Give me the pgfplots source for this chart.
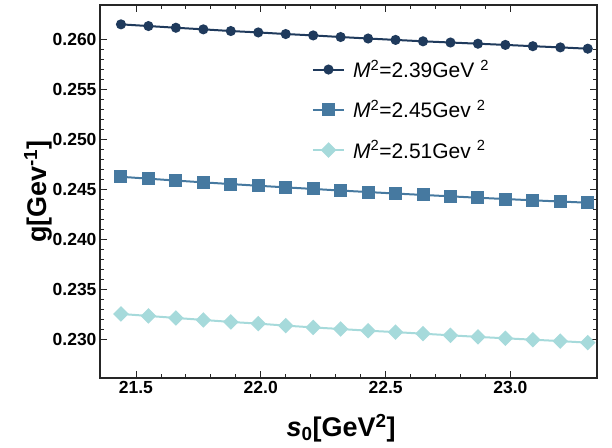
\documentclass[border=0pt]{standalone}
\usepackage{pgfplots}
\pgfplotsset{compat=1.18}
\usepackage{fontspec}
\setmainfont{Liberation Sans}

\definecolor{navy}{HTML}{1F3A5C}
\definecolor{steel}{HTML}{4679A0}
\definecolor{aqua}{HTML}{A6DADB}

\begin{document}
\begin{tikzpicture}
\begin{axis}[
    scale only axis,
    width=497bp, height=373bp,
    at={(0,0)}, anchor=south west,
    xmin=21.356, xmax=23.347,
    ymin=0.22609, ymax=0.26348,
    xtick={21.5,22.0,22.5,23.0},
    ytick={0.230,0.235,0.240,0.245,0.250,0.255,0.260},
    minor x tick num=4, minor y tick num=4,
    tick align=inside,
    major tick length=7bp, minor tick length=4bp,
    every tick/.style={black!85, line width=0.8bp},
    axis line style={black!85, line width=1.2bp},
    /pgf/number format/assume math mode=true,
    ticklabel style={font=\fontsize{17.5bp}{20bp}\selectfont\bfseries},
    xticklabel style={/pgf/number format/.cd, fixed, fixed zerofill, precision=1},
    yticklabel style={/pgf/number format/.cd, fixed, fixed zerofill, precision=3},
    xlabel={\textbf{\textit{s}\textsubscript{0}[GeV\textsuperscript{2}]}},
    ylabel={\textbf{g[Gev\textsuperscript{-1}]}},
    label style={font=\fontsize{27bp}{30bp}\selectfont},
    xlabel style={at={(axis description cs:0.485,-0.134)}, anchor=center},
    ylabel style={at={(axis description cs:-0.125,0.5)}, anchor=center, rotate=0},
    legend cell align=left,
    legend style={draw=none, fill=none,
        at={(axis description cs:0.42,0.864)}, anchor=north west,
        font=\fontsize{21bp}{24bp}\selectfont, row sep=17bp, column sep=6bp},
    legend image code/.code={\draw[mark repeat=2,mark phase=2,#1]
        plot coordinates {(0cm,0cm)(0.55cm,0cm)(1.1cm,0cm)};},
]
\addplot[navy, line width=2bp, mark=*, mark size=4bp] coordinates {
(21.44,0.26154) (21.55,0.26137) (21.66,0.26120) (21.77,0.26104)
(21.88,0.26087) (21.99,0.26073) (22.10,0.26057) (22.21,0.26043)
(22.32,0.26027) (22.43,0.26012) (22.54,0.25998) (22.65,0.25984)
(22.76,0.25972) (22.87,0.25960) (22.98,0.25948) (23.09,0.25935)
(23.20,0.25923) (23.31,0.25910)};
\addlegendentry{\textit{M}\textsuperscript{2}=2.39GeV \textsuperscript{2}}

\addplot[steel, line width=2bp, mark=square*, mark size=5.5bp] coordinates {
(21.44,0.24626) (21.55,0.24607) (21.66,0.24588) (21.77,0.24570)
(21.88,0.24553) (21.99,0.24536) (22.10,0.24520) (22.21,0.24504)
(22.32,0.24488) (22.43,0.24473) (22.54,0.24458) (22.65,0.24444)
(22.76,0.24430) (22.87,0.24416) (22.98,0.24403) (23.09,0.24390)
(23.20,0.24378) (23.31,0.24366)};
\addlegendentry{\textit{M}\textsuperscript{2}=2.45Gev \textsuperscript{2}}

\addplot[aqua, line width=2bp, mark=square*, mark size=4.5bp,
    mark options={rotate=45}] coordinates {
(21.44,0.23251) (21.55,0.23231) (21.66,0.23211) (21.77,0.23191)
(21.88,0.23171) (21.99,0.23154) (22.10,0.23134) (22.21,0.23116)
(22.32,0.23100) (22.43,0.23083) (22.54,0.23069) (22.65,0.23053)
(22.76,0.23037) (22.87,0.23021) (22.98,0.23007) (23.09,0.22993)
(23.20,0.22979) (23.31,0.22963)};
\addlegendentry{\textit{M}\textsuperscript{2}=2.51Gev \textsuperscript{2}}
\end{axis}
\pgfresetboundingbox
\useasboundingbox (-100bp,-70bp) rectangle (512bp,378bp);
\end{tikzpicture}
\end{document}
